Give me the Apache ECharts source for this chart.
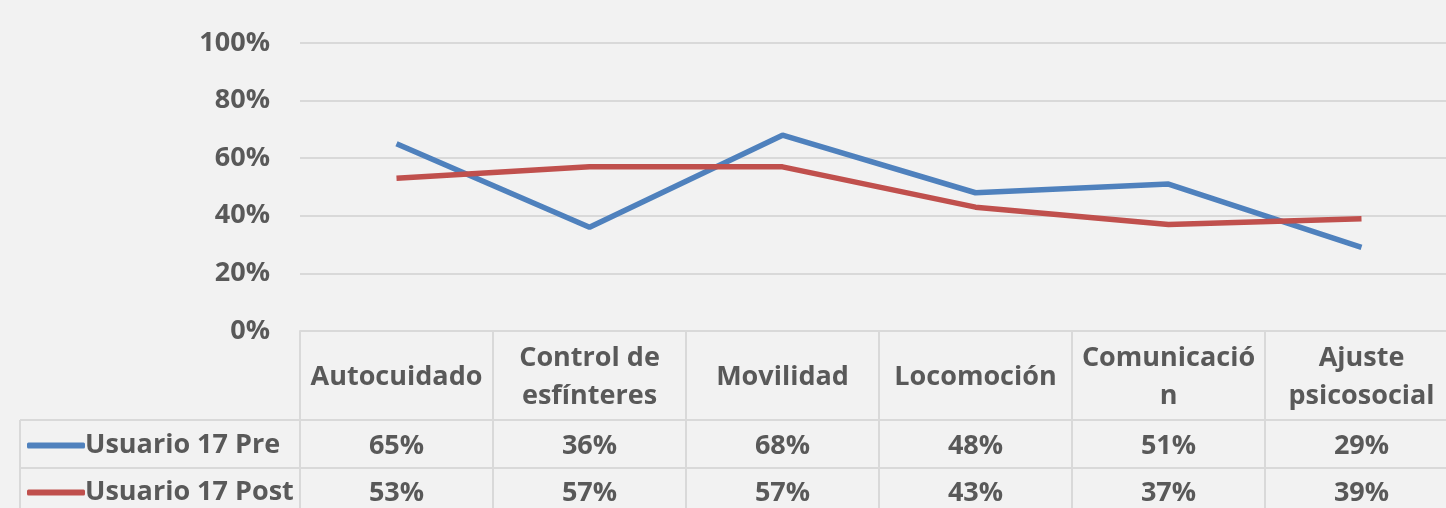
<!DOCTYPE html>
<html lang="es">
<head>
<meta charset="utf-8">
<title>Usuario 17 Pre / Post</title>
<script src="https://cdn.jsdelivr.net/npm/echarts@6/dist/echarts.min.js"></script>
<style>
  html, body { margin: 0; padding: 0; background: #f2f2f2; }
  #chart { width: 1446px; height: 508px; }
</style>
</head>
<body>
<div id="chart"></div>
<script>
// datos del gráfico
const categories = ['Autocuidado', 'Control de esfínteres', 'Movilidad', 'Locomoción', 'Comunicación', 'Ajuste psicosocial'];
const headerLabels = ['Autocuidado', 'Control de\nesfínteres', 'Movilidad', 'Locomoción', 'Comunicació\nn', 'Ajuste\npsicosocial'];
const preValues = [0.65, 0.36, 0.68, 0.48, 0.51, 0.29];
const postValues = [0.53, 0.57, 0.57, 0.43, 0.37, 0.39];
const yTicks = [0, 0.2, 0.4, 0.6, 0.8, 1];

const seriesNames = ['Usuario 17 Pre', 'Usuario 17 Post'];
const colors = ['#4f81bd', '#c0504d'];

// medidas de la tabla (la última columna sale del recorte)
const W = 1446, H = 508;
const plotLeft = 300, plotTop = 43, plotBottom = 331, plotWidth = 1158;
const tableLeft = 20;
const rowPre = 420, rowPost = 468;
const headerMid = 377, preMid = 446, postMid = 493;

const font = { fontFamily: 'Open Sans', fontWeight: 'bold', fontSize: 27, color: '#595959' };
const gridColor = '#d9d9d9';
const pct = v => Math.round(v * 100) + '%';

const chart = echarts.init(document.getElementById('chart'));

function rowAxis(values, mid) {
  return {
    type: 'category',
    position: 'bottom',
    data: values.map(pct),
    axisLine: { show: false },
    axisTick: { show: false },
    axisLabel: Object.assign({ interval: 0, margin: mid - plotBottom, verticalAlign: 'middle' }, font)
  };
}

function rowLegend(i, mid) {
  return {
    left: tableLeft + 2,
    top: mid - 19,
    icon: 'roundRect',
    itemWidth: 58,
    itemHeight: 6,
    itemGap: 0,
    selectedMode: false,
    data: [seriesNames[i]],
    textStyle: Object.assign({ padding: [0, 0, 0, -5] }, font)
  };
}

function hLine(y) {
  return { type: 'line', shape: { x1: tableLeft, y1: y, x2: W, y2: y }, style: { stroke: gridColor, lineWidth: 2 }, silent: true };
}

const option = {
  backgroundColor: '#f2f2f2',
  animation: false,
  color: colors,
  grid: {
    left: plotLeft, width: plotWidth, top: plotTop, height: plotBottom - plotTop,
    containLabel: false, outerBoundsMode: 'none'
  },
  legend: [rowLegend(0, preMid), rowLegend(1, postMid)],
  xAxis: [
    {
      type: 'category',
      data: categories,
      boundaryGap: true,
      axisLine: { lineStyle: { color: gridColor, width: 2 } },
      axisTick: { show: true, interval: 0, length: H - plotBottom, lineStyle: { color: gridColor, width: 2 } },
      axisLabel: Object.assign({
        interval: 0,
        margin: headerMid - plotBottom,
        verticalAlign: 'middle',
        lineHeight: 38,
        formatter: (v, i) => headerLabels[i]
      }, font)
    },
    rowAxis(preValues, preMid),
    rowAxis(postValues, postMid)
  ],
  yAxis: {
    type: 'value',
    min: yTicks[0],
    max: yTicks[yTicks.length - 1],
    interval: 0.2,
    axisLine: { show: false },
    axisTick: { show: false },
    splitLine: { lineStyle: { color: gridColor, width: 2 } },
    axisLabel: Object.assign({ margin: 30, formatter: pct }, font)
  },
  series: [
    { name: seriesNames[0], type: 'line', data: preValues, symbol: 'none', lineStyle: { width: 5.5, color: colors[0] } },
    { name: seriesNames[1], type: 'line', data: postValues, symbol: 'none', lineStyle: { width: 5.5, color: colors[1] } }
  ],
  graphic: [
    hLine(rowPre),
    hLine(rowPost),
    { type: 'line', shape: { x1: tableLeft, y1: rowPre, x2: tableLeft, y2: H }, style: { stroke: gridColor, lineWidth: 2 }, silent: true }
  ]
};

chart.setOption(option);
</script>
</body>
</html>
